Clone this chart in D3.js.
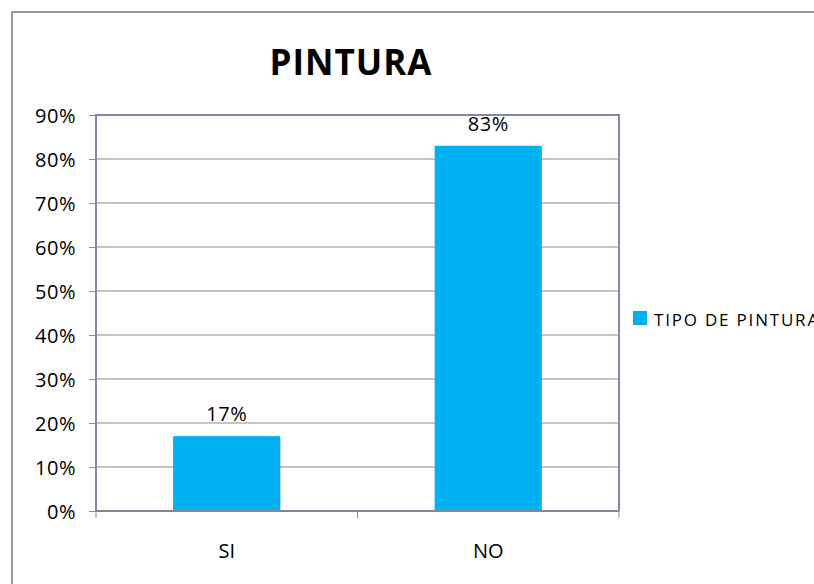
<!DOCTYPE html>
<html>
<head>
<meta charset="UTF-8">
<style>
  body { margin: 0; background: #fff; }
  svg text { font-family: "Open Sans", "DejaVu Sans", sans-serif; fill: #000; }
</style>
</head>
<body>
<svg></svg>
<script src="https://d3js.org/d3.v7.min.js"></script>
<script>

let width = 814, height = 584;

// data
let categories = ["SI", "NO"];
let values = [0.17, 0.83];
let yTicks = [0, 0.1, 0.2, 0.3, 0.4, 0.5, 0.6, 0.7, 0.8, 0.9];
let seriesName = "TIPO DE PINTURA";
let chartTitle = "PINTURA";

let barColor = "#00b0f0";
let plot = {left: 96, top: 115, right: 619, bottom: 511};

let svg = d3.select("svg")
    .attr("width", width)
    .attr("height", height);

// outer chart frame
svg.append("path")
    .attr("d", "M12," + height + " L12,12 L" + width + ",12")
    .attr("fill", "none")
    .attr("stroke", "#9a9a9a")
    .attr("stroke-width", 2);

let x = d3.scaleBand()
    .domain(categories)
    .range([plot.left, plot.right])
    .paddingInner(0.59)
    .paddingOuter(0.295);

let y = d3.scaleLinear()
    .domain([0, 0.9])
    .range([plot.bottom, plot.top]);

// gridlines
svg.append("g")
  .selectAll("line")
  .data(yTicks.slice(1, -1))
  .enter()
  .append("line")
    .attr("x1", plot.left)
    .attr("x2", plot.right)
    .attr("y1", d => y(d))
    .attr("y2", d => y(d))
    .attr("stroke", "#8c8c8c")
    .attr("stroke-width", 1);

// y axis
let yAxis = svg.append("g")
    .attr("transform", "translate(" + plot.left + ",0)")
    .call(d3.axisLeft(y).tickValues(yTicks).tickFormat(d3.format(".0%")).tickSize(7).tickPadding(13));
yAxis.select(".domain").remove();
yAxis.selectAll(".tick line").attr("stroke", "#8c8c8c");
yAxis.selectAll("text")
    .style("font-size", "20px")
    .style("letter-spacing", "0.5px")
    .attr("dy", "0.36em");

// x axis
let xAxis = svg.append("g")
    .attr("transform", "translate(0," + plot.bottom + ")")
    .call(d3.axisBottom(x).tickSize(0).tickPadding(33));
xAxis.select(".domain").remove();
xAxis.selectAll("text").style("font-size", "20px");

// x tick marks at category boundaries
svg.append("g")
  .selectAll("line")
  .data([0, 1, 2])
  .enter()
  .append("line")
    .attr("x1", d => plot.left + d * (plot.right - plot.left) / 2)
    .attr("x2", d => plot.left + d * (plot.right - plot.left) / 2)
    .attr("y1", plot.bottom)
    .attr("y2", plot.bottom + 7)
    .attr("stroke", "#8c8c8c");

// bars
svg.append("g")
  .selectAll("rect")
  .data(values)
  .enter()
  .append("rect")
    .attr("x", (d, i) => x(categories[i]))
    .attr("y", d => y(d))
    .attr("width", x.bandwidth())
    .attr("height", d => plot.bottom - y(d))
    .attr("fill", barColor);

// plot area frame (left, top, right) and bottom axis line
svg.append("path")
    .attr("d", "M" + plot.left + "," + plot.bottom + " L" + plot.left + "," + plot.top +
          " L" + plot.right + "," + plot.top + " L" + plot.right + "," + plot.bottom)
    .attr("fill", "none")
    .attr("stroke", "#8585a8")
    .attr("stroke-width", 2);
svg.append("line")
    .attr("x1", plot.left)
    .attr("x2", plot.right)
    .attr("y1", plot.bottom)
    .attr("y2", plot.bottom)
    .attr("stroke", "#858597")
    .attr("stroke-width", 2);

// data labels
svg.append("g")
  .selectAll("text")
  .data(values)
  .enter()
  .append("text")
    .attr("x", (d, i) => x(categories[i]) + x.bandwidth() / 2)
    .attr("y", d => y(d) - 15)
    .attr("text-anchor", "middle")
    .style("font-size", "20px")
    .style("letter-spacing", "0.5px")
    .text(d => d3.format(".0%")(d));

// title
svg.append("text")
    .attr("x", 351)
    .attr("y", 75)
    .attr("text-anchor", "middle")
    .style("font-size", "35px")
    .style("font-weight", "bold")
    .style("letter-spacing", "1px")
    .text(chartTitle);

// legend (text runs past the right edge, as in the original)
svg.append("rect")
    .attr("x", 633)
    .attr("y", 311)
    .attr("width", 14)
    .attr("height", 14)
    .attr("fill", barColor);
svg.append("text")
    .attr("x", 654)
    .attr("y", 326)
    .style("font-size", "17px")
    .style("letter-spacing", "1.8px")
    .text(seriesName);

</script>
</body>
</html>
